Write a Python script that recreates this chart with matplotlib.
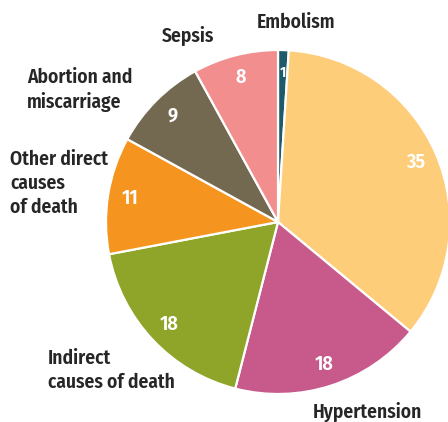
import numpy as np
import matplotlib.pyplot as plt

causes = ['Embolism', '', 'Hypertension', 'Indirect\ncauses of death',
          'Other direct\ncauses\nof death', 'Abortion and\nmiscarriage', 'Sepsis']
values = [1, 35, 18, 18, 11, 9, 8]
colors = ['#1d5b6a', '#fdcd7a', '#c75a8a', '#8fa52a', '#f5951f', '#736850', '#f28e8e']

plt.rcParams['font.family'] = ['Fira Sans Condensed', 'Liberation Sans', 'DejaVu Sans']
plt.rcParams['font.weight'] = 'semibold'

fig = plt.figure(figsize=(4.48, 4.22), dpi=100)
# pie centre ~ (278, 222) px, radius ~172 px
ax = fig.add_axes([(278 - 172) / 448, (422 - 222 - 172) / 422, 344 / 448, 344 / 422])

wedges, texts = ax.pie(values, colors=colors, startangle=90, counterclock=False,
                       wedgeprops=dict(edgecolor='white', linewidth=1.6))
ax.set_xlim(-1, 1)
ax.set_ylim(-1, 1)
ax.set_aspect('equal')
ax.axis('off')

# numbers inside the slices
for w, v in zip(wedges, values):
    ang = np.deg2rad((w.theta1 + w.theta2) / 2)
    r = 0.87
    fs = 11 if v == 1 else 14.5
    ax.text(r * np.cos(ang), r * np.sin(ang), str(v), color='white',
            fontsize=fs, ha='center', va='center')

txt = '#262626'
fig.text(296 / 448, 1 - 22 / 422, 'Embolism', ha='center', va='center', fontsize=14, color=txt)
fig.text(188 / 448, 1 - 36 / 422, 'Sepsis', ha='center', va='center', fontsize=14, color=txt)
fig.text(27 / 448, 1 - 90 / 422, causes[5], ha='left', va='center', fontsize=14,
         color=txt, linespacing=1.3)
fig.text(10 / 448, 1 - 183 / 422, causes[4], ha='left', va='center', fontsize=14,
         color=txt, linespacing=1.3)
fig.text(48 / 448, 1 - 370 / 422, causes[3], ha='left', va='center', fontsize=14,
         color=txt, linespacing=1.3)
fig.text(367 / 448, 1 - 412 / 422, causes[2], ha='center', va='center', fontsize=14, color=txt)

fig.savefig('out.png', dpi=100)
